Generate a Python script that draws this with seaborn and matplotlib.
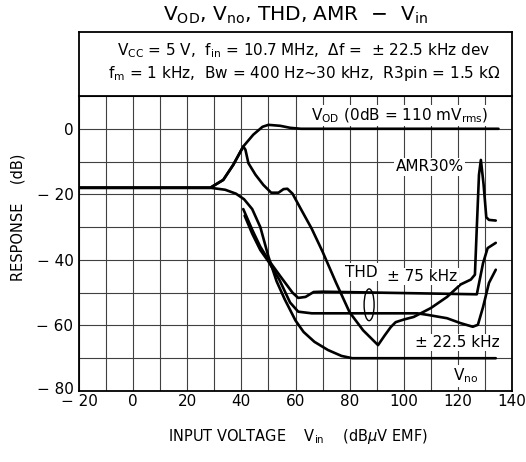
import matplotlib
matplotlib.use("Agg")
import matplotlib.pyplot as plt
from matplotlib.patches import Ellipse
import matplotlib.transforms as mtransforms
import numpy as np
import pandas as pd
import seaborn as sns

# ---- data ----
vod_x = [-20, 28.5, 33.3, 37, 40.7, 44.4, 47.8, 50, 54.4, 58, 62, 135]
vod_y = [-18, -18, -15.6, -11, -5.4, -1.8, 0.6, 1.2, 0.9, 0.3, 0, 0]

amr_x = [-20, 28.5, 33.3, 37, 40.7, 41.5, 42.6, 45.2, 48.1, 51, 53.7, 55.6, 57, 58.9,
         62, 66, 70, 75, 80, 85, 90.5, 93, 95.2, 97, 100, 103.7, 110, 116, 121, 124.8,
         126.3, 127, 127.8, 128.5, 129.5, 130.5, 131.5, 134]
amr_y = [-18, -18, -15.6, -11, -5.4, -6.4, -10.5, -14, -17.1, -19.5, -19.5, -18.4, -18.3, -19.8,
         -24.5, -30.5, -37.5, -47, -56, -61.5, -66, -63, -60.5, -59, -58.2, -57.4, -54.7, -51.3, -47.5, -46,
         -44.5, -30, -14, -9.5, -17, -27, -27.8, -28]

vno_x = [-20, 28.5, 34, 38, 41, 44, 47, 50, 53, 56, 60, 63, 67, 72, 77, 81, 134]
vno_y = [-18, -18, -18.6, -19.8, -21.5, -24.5, -30, -39, -46.5, -52, -58.5, -62, -65, -67.5, -69.3, -70, -70]

thd75_x = [40.7, 44, 47, 50, 54.4, 58.9, 61, 63.7, 66.7, 70, 127, 129.3, 131, 134]
thd75_y = [-24.5, -30.8, -36, -40, -45, -50, -51.6, -51.3, -49.8, -49.7, -50.5, -41, -36.4, -34.8]

thd22_x = [41.2, 44, 47, 50, 54, 58, 61, 66, 105, 109, 116, 121, 125.5, 127.4, 129.3, 131.5, 134]
thd22_y = [-26.5, -32, -37, -40.5, -46, -53, -55.8, -56.3, -56.3, -56.8, -57.8, -59.3, -60.4, -59.8, -54.4, -47, -43]

x_ticks = [-20, 0, 20, 40, 60, 80, 100, 120, 140]
x_ticklabels = ["\u2212 20", "0", "20", "40", "60", "80", "100", "120", "140"]
y_ticks = [-80, -60, -40, -20, 0]
y_ticklabels = ["\u2212 80", "\u2212 60", "\u2212 40", "\u2212 20", "0"]

curves = {"VOD": (vod_x, vod_y), "AMR": (amr_x, amr_y), "Vno": (vno_x, vno_y),
          "THD75": (thd75_x, thd75_y), "THD22": (thd22_x, thd22_y)}
df = pd.concat([pd.DataFrame({"vin": x, "resp": y, "curve": k}) for k, (x, y) in curves.items()],
               ignore_index=True)

# ---- style ----
sns.set_style("white")
plt.rcParams["font.family"] = ["DejaVu Sans"]
plt.rcParams["mathtext.fontset"] = "dejavusans"
plt.rcParams["text.color"] = "black"

W, H = 526, 462
fig = plt.figure(figsize=(W / 100, H / 100), dpi=100)
L, R, TOPBOX, GTOP, BOT = 79, 512, 32, 96, 391
ax = fig.add_axes([L / W, 1 - BOT / H, (R - L) / W, (BOT - GTOP) / H])
bx = fig.add_axes([L / W, 1 - GTOP / H, (R - L) / W, (GTOP - TOPBOX) / H])

sns.lineplot(data=df, x="vin", y="resp", hue="curve", palette=["black"] * 5,
             estimator=None, sort=False, legend=False, linewidth=1.9, ax=ax)

ax.set_xlim(-20, 140)
ax.set_ylim(-80, 10)
ax.set_xticks(x_ticks)
ax.set_xticklabels(x_ticklabels)
ax.set_xticks(np.arange(-10, 140, 20), minor=True)
ax.set_yticks(y_ticks)
ax.set_yticklabels(y_ticklabels)
ax.set_yticks(np.arange(-70, 11, 20), minor=True)
ax.grid(which="both", color="0.25", linewidth=0.8)
ax.tick_params(which="both", length=0, labelsize=11, colors="black")
ax.tick_params(axis="x", pad=2)
ax.tick_params(axis="y", pad=4)
ax.set_xlabel("")
ax.set_ylabel("")
for s in ax.spines.values():
    s.set_visible(True)
    s.set_color("black")
    s.set_linewidth(1.3)
# lift the lowest y label a little so it clears the first x label
lab = ax.get_yticklabels()[0]
lab.set_transform(lab.get_transform() + mtransforms.ScaledTranslation(0, 3 / 100, fig.dpi_scale_trans))

# labels inside the plot
bb = dict(facecolor="white", edgecolor="none", pad=1.0)
fs = 11
ax.text(98.5, 4.0, r"$\mathregular{V_{OD}}$ (0dB = 110 mV$\mathregular{_{rms}}$)", fontsize=fs,
        ha="center", va="center", bbox=bb)
ax.text(109.6, -11.6, "AMR30%", fontsize=fs, ha="center", va="center", bbox=bb)
ax.text(84.4, -43.7, "THD", fontsize=fs, ha="center", va="center", bbox=bb)
ax.text(106.9, -45.1, "\u00b1 75 kHz", fontsize=fs, ha="center", va="center", bbox=bb)
ax.text(119.8, -65.2, "\u00b1 22.5 kHz", fontsize=fs, ha="center", va="center", bbox=bb)
ax.text(123, -75.4, r"$\mathregular{V_{no}}$", fontsize=fs, ha="center", va="center", bbox=bb)
ax.add_patch(Ellipse((87.2, -53.7), 3.7, 9.7, fill=False, edgecolor="black", linewidth=1.0, zorder=5))

# condition box
bx.set_xlim(0, 1)
bx.set_ylim(0, 1)
bx.set_xticks([])
bx.set_yticks([])
for s in bx.spines.values():
    s.set_visible(True)
    s.set_color("black")
    s.set_linewidth(1.3)
cx = (304 - L) / (R - L)
line1 = (r"$\mathregular{V_{CC}}$ = 5 V,  f$\mathregular{_{in}}$ = 10.7 MHz,  $\mathit{\Delta}$f =  "
         + "\u00b1 22.5 kHz dev")
line2 = r"f$\mathregular{_m}$ = 1 kHz,  Bw = 400 Hz~30 kHz,  R3pin = 1.5 k$\mathregular{\Omega}$"
bx.text(cx, (GTOP - 51) / (GTOP - TOPBOX), line1, fontsize=11, ha="center", va="center")
bx.text(cx, (GTOP - 73) / (GTOP - TOPBOX), line2, fontsize=11, ha="center", va="center")

# title and axis labels
title = (r"$\mathregular{V_{OD}}$, $\mathregular{V_{no}}$, THD, AMR  " + "\u2212" +
         r"  $\mathregular{V_{in}}$")
fig.text(295 / W, 1 - 15 / H, title, fontsize=14.5, ha="center", va="center")
fig.text(298 / W, 1 - 437 / H, r"INPUT VOLTAGE    $\mathregular{V_{in}}$    (dB$\mu$V EMF)",
         fontsize=10.5, ha="center", va="center")
fig.text(18 / W, 1 - 217 / H, "RESPONSE    (dB)", fontsize=10.5, rotation=90,
         ha="center", va="center")

fig.savefig("out.png", dpi=100)
